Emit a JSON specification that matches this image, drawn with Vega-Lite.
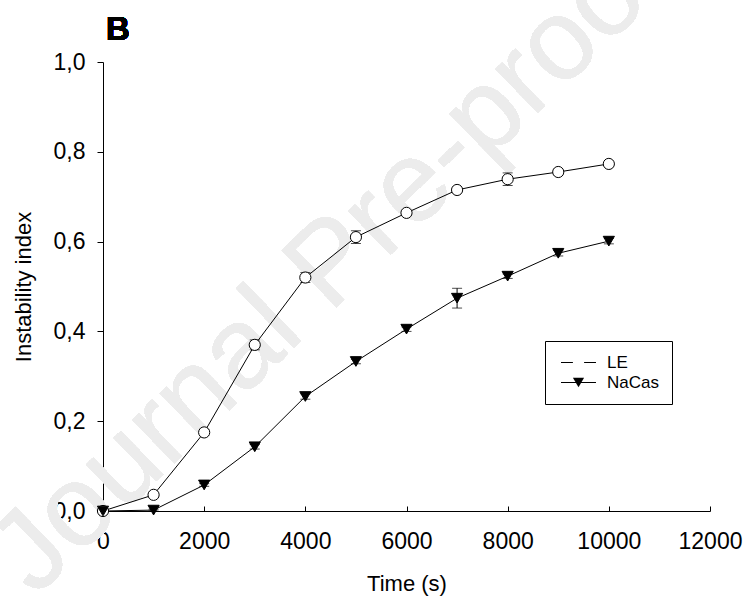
{
  "$schema": "https://vega.github.io/schema/vega-lite/v6.json",
  "width": 607,
  "height": 449,
  "autosize": {"type": "none"},
  "padding": {"left": 103, "top": 62, "right": 37, "bottom": 94},
  "background": "white",
  "config": {
    "font": "Liberation Sans",
    "view": {"stroke": null},
    "axis": {"grid": false, "zindex": 1, "domainColor": "black", "tickColor": "black", "labelColor": "black", "titleColor": "black", "labelFont": "Liberation Sans", "titleFont": "Liberation Sans", "titleFontWeight": "normal", "labelFontSize": 23, "titleFontSize": 22, "domainWidth": 1, "tickWidth": 1}
  },
  "data": {"values": [
    {"series": "LE", "time": 0, "value": 0.0, "err": 0.0},
    {"series": "LE", "time": 1000, "value": 0.036, "err": 0.005},
    {"series": "LE", "time": 2000, "value": 0.175, "err": 0.007},
    {"series": "LE", "time": 3000, "value": 0.370, "err": 0.011},
    {"series": "LE", "time": 4000, "value": 0.520, "err": 0.011},
    {"series": "LE", "time": 5000, "value": 0.610, "err": 0.014},
    {"series": "LE", "time": 6000, "value": 0.664, "err": 0.005},
    {"series": "LE", "time": 7000, "value": 0.715, "err": 0.005},
    {"series": "LE", "time": 8000, "value": 0.739, "err": 0.014},
    {"series": "LE", "time": 9000, "value": 0.755, "err": 0.006},
    {"series": "LE", "time": 10000, "value": 0.773, "err": 0.003},
    {"series": "NaCas", "time": 0, "value": 0.0, "err": 0.0},
    {"series": "NaCas", "time": 1000, "value": 0.002, "err": 0.002},
    {"series": "NaCas", "time": 2000, "value": 0.058, "err": 0.003},
    {"series": "NaCas", "time": 3000, "value": 0.143, "err": 0.005},
    {"series": "NaCas", "time": 4000, "value": 0.255, "err": 0.006},
    {"series": "NaCas", "time": 5000, "value": 0.333, "err": 0.005},
    {"series": "NaCas", "time": 6000, "value": 0.405, "err": 0.005},
    {"series": "NaCas", "time": 7000, "value": 0.474, "err": 0.022},
    {"series": "NaCas", "time": 8000, "value": 0.523, "err": 0.005},
    {"series": "NaCas", "time": 9000, "value": 0.574, "err": 0.006},
    {"series": "NaCas", "time": 10000, "value": 0.601, "err": 0.006}
  ]},
  "encoding": {
    "x": {"field": "time", "type": "quantitative", "scale": {"domain": [0, 12000], "nice": false},
      "axis": {"title": "Time (s)", "values": [0, 2000, 4000, 6000, 8000, 10000, 12000], "format": "d", "tickSize": -5, "labelPadding": 24, "titlePadding": 20, "labelFlush": false, "labelOverlap": false}},
    "y": {"field": "value", "type": "quantitative", "scale": {"domain": [0, 1], "nice": false},
      "axis": {"title": "Instability index", "values": [0, 0.2, 0.4, 0.6, 0.8, 1.0], "labelExpr": "replace(format(datum.value, '.1f'), '.', ',')", "tickSize": 6, "labelPadding": 12, "titlePadding": 18, "labelFlush": false, "labelOverlap": false}}
  },
  "layer": [
    {
      "mark": {"type": "text", "text": "Journal Pre-proof", "angle": -44, "fontSize": 115, "font": "Liberation Sans", "color": "#ececec", "align": "center", "baseline": "middle"},
      "encoding": {"x": {"datum": 4500}, "y": {"datum": 0.55}}
    },
    {
      "mark": {"type": "text", "text": "B", "fontSize": 33, "fontWeight": "bold", "font": "Liberation Sans", "fill": "black", "align": "left", "baseline": "alphabetic", "dx": 3, "dy": -22},
      "encoding": {"x": {"datum": 0}, "y": {"datum": 1}}
    },
    {
      "mark": {"type": "line", "color": "black", "strokeWidth": 1},
      "encoding": {"detail": {"field": "series"}}
    },
    {
      "mark": {"type": "errorbar", "color": "black", "ticks": {"size": 10}, "thickness": 1},
      "encoding": {"yError": {"field": "err"}, "detail": {"field": "series"}}
    },
    {
      "mark": {"type": "point", "filled": true, "stroke": "black", "strokeWidth": 1, "opacity": 1, "size": 125},
      "encoding": {
        "stroke": {"field": "series", "type": "nominal", "scale": {"domain": ["NaCas", "LE"], "range": ["black", "black"]},
          "legend": {"title": null, "values": ["LE", "NaCas"], "orient": "none", "legendX": 442, "legendY": 279, "zindex": 1, "padding": 13, "strokeColor": "black", "fillColor": "white", "labelFontSize": 17, "labelFont": "Liberation Sans", "labelColor": "black", "labelOffset": 20, "symbolSize": 125, "symbolOffset": 12, "symbolType": "M-3.13,0L3.13,0", "symbolStrokeColor": "black", "symbolStrokeWidth": 1, "rowPadding": 2}},
        "shape": {"field": "series", "type": "nominal", "scale": {"domain": ["LE", "NaCas"], "range": ["circle", "triangle-down"]},
          "legend": {"title": null, "orient": "none", "legendX": 442, "legendY": 279, "zindex": 2, "padding": 13, "labelFontSize": 17, "labelFont": "Liberation Sans", "labelColor": "transparent", "labelOffset": 20, "symbolSize": 125, "symbolOffset": 12, "symbolStrokeColor": "black", "symbolStrokeWidth": 1, "rowPadding": 2,
            "encode": {"symbols": {"update": {
              "fill": {"signal": "datum.value == 'LE' ? 'white' : 'black'"},
              "stroke": {"value": "black"},
              "strokeWidth": {"value": 1},
              "opacity": {"value": 1}
            }}}}},
        "fill": {"field": "series", "type": "nominal", "scale": {"domain": ["LE", "NaCas"], "range": ["white", "black"]}, "legend": null}
      }
    }
  ]
}
